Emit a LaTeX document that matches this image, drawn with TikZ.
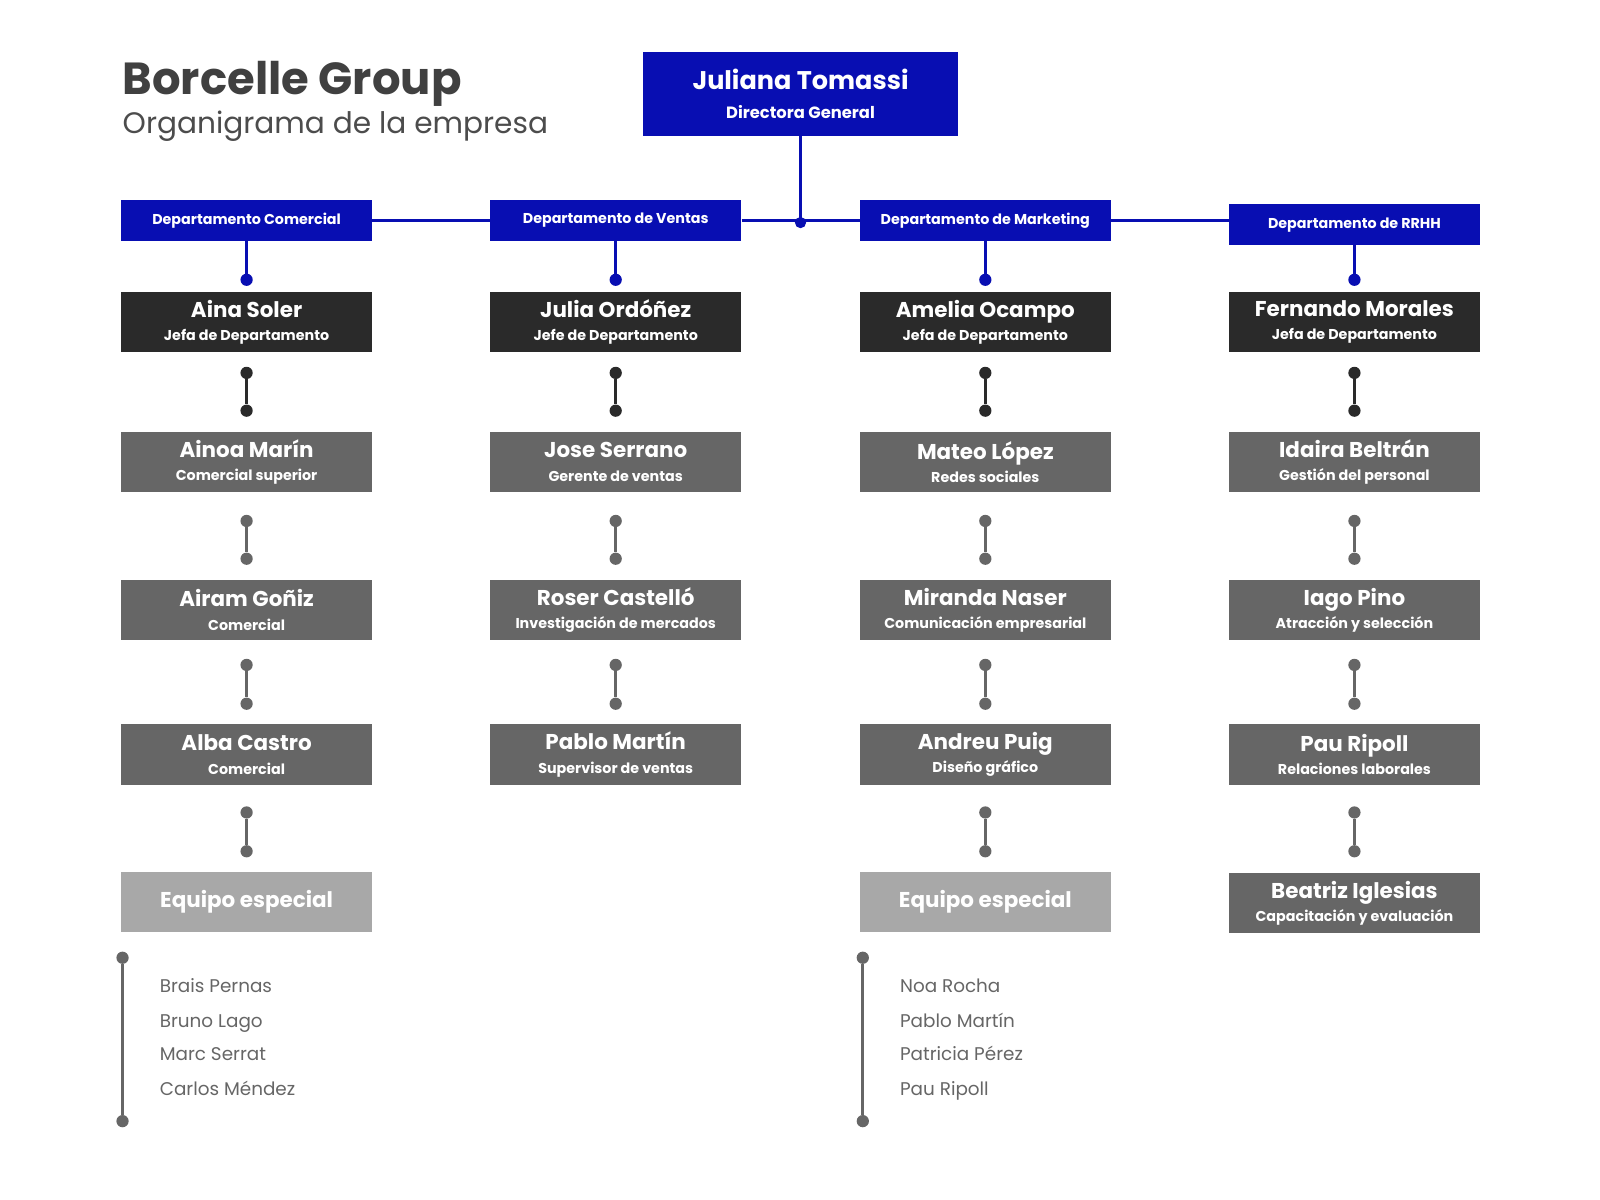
\documentclass[tikz,border=0pt]{standalone}
\usepackage{fontspec}
\setmainfont{Poppins}
\usetikzlibrary{positioning}
\definecolor{boss}{RGB}{8,14,178}
\definecolor{head}{RGB}{42,42,42}
\definecolor{staff}{RGB}{102,102,102}
\definecolor{team}{RGB}{168,168,168}
\newcommand{\who}[2]{\textbf{#1}\\{\fontsize{14}{16}\selectfont\bfseries #2}}
\tikzset{
  box/.style={text=white, align=center, minimum width=246pt, minimum height=59pt, inner sep=0pt, font=\fontsize{21}{23}\selectfont},
  dept/.style={box, fill=boss, minimum height=40pt, font=\fontsize{14}{16}\selectfont\bfseries},
  hd/.style={box, fill=head},
  st/.style={box, fill=staff},
  link/.style={line width=3pt, draw=#1},
  dot/.style={circle, fill=#1, inner sep=0pt, minimum size=12pt},
  member/.style={anchor=base west, text=staff, font=\fontsize{18}{20}\selectfont}
}
\begin{document}
\begin{tikzpicture}[x=1pt,y=-1pt]
\useasboundingbox[fill=white] (0,0) rectangle (1567,1175);

\node[anchor=base west, text=black!75, font=\fontsize{44}{48}\selectfont\bfseries, inner sep=0pt] (title) at (120,93) {Borcelle Group};
\node[anchor=base west, text=black!70, font=\fontsize{29}{32}\selectfont, inner sep=0pt] (sub) at (120,131) {Organigrama de la empresa};

\node[box, fill=boss, minimum width=308pt, minimum height=82pt, font=\fontsize{25}{29}\selectfont] (ceo) at (784,92) {\textbf{Juliana Tomassi}\\{\fontsize{16}{18}\selectfont\bfseries Directora General}};

\node[dept] (d1) at (241.5,216) {Departamento Comercial};
\node[dept] (d2) at (603,216) {Departamento de Ventas};
\node[dept] (d3) at (965,216) {Departamento de Marketing};
\node[dept] (d4) at (1326.5,220) {Departamento de RRHH};
\node[dot=boss, minimum size=11pt] (hub) at (784,218) {};
\draw[link=boss] (d1.east) -- (d2.west) (d2.east) -- (d3.west) (d3.east) -- (d4.west |- d3.east);
\draw[link=boss] (ceo.south) -- (hub.center);

% jefes
\node[hd] (h1) at (241.5,315.5) {\who{Aina Soler}{Jefa de Departamento}};
\node[hd] (h2) at (603,315.5) {\who{Julia Ordóñez}{Jefe de Departamento}};
\node[hd] (h3) at (965,315.5) {\who{Amelia Ocampo}{Jefa de Departamento}};
\node[hd] (h4) at (1326.5,315.5) {\who{Fernando Morales}{Jefa de Departamento}};

% segunda fila
\node[st] (a1) at (241.5,452.5) {\who{Ainoa Marín}{Comercial superior}};
\node[st] (a2) at (603,452.5) {\who{Jose Serrano}{Gerente de ventas}};
\node[st] (a3) at (965,452.5) {\who{Mateo López}{Redes sociales}};
\node[st] (a4) at (1326.5,452.5) {\who{Idaira Beltrán}{Gestión del personal}};

\node[st] (b1) at (241.5,597.5) {\who{Airam Goñiz}{Comercial}};
\node[st] (b2) at (603,597.5) {\who{Roser Castelló}{Investigación de mercados}};
\node[st] (b3) at (965,597.5) {\who{Miranda Naser}{Comunicación empresarial}};
\node[st] (b4) at (1326.5,597.5) {\who{Iago Pino}{Atracción y selección}};

\node[st] (c1) at (241.5,739) {\who{Alba Castro}{Comercial}};
\node[st] (c2) at (603,739) {\who{Pablo Martín}{Supervisor de ventas}};
\node[st] (c3) at (965,739) {\who{Andreu Puig}{Diseño gráfico}};
\node[st] (c4) at (1326.5,739) {\who{Pau Ripoll}{Relaciones laborales}};

\node[box, fill=team, font=\fontsize{21}{23}\selectfont\bfseries] (e1) at (241.5,883.5) {Equipo especial};
\node[box, fill=team, font=\fontsize{21}{23}\selectfont\bfseries] (e3) at (965,883.5) {Equipo especial};
\node[st] (e4) at (1326.5,884.5) {\who{Beatriz Iglesias}{Capacitación y evaluación}};

% conectores
\foreach \i in {1,...,4}{
  \node[dot=boss] (p\i) at (h\i.north |- 0,274) {};
  \draw[link=boss] (d\i.south) -- (p\i.center);
  \node[dot=head] (u\i) at ([yshift=-20pt]h\i.south) {};
  \node[dot=head] (v\i) at ([yshift=-57pt]h\i.south) {};
  \draw[link=head] (u\i) -- (v\i);
  \node[dot=staff] (w\i) at ([yshift=-28pt]a\i.south) {};
  \node[dot=staff] (x\i) at ([yshift=-65pt]a\i.south) {};
  \draw[link=staff] (w\i) -- (x\i);
  \node[dot=staff] (y\i) at ([yshift=-24pt]b\i.south) {};
  \node[dot=staff] (z\i) at ([yshift=-62pt]b\i.south) {};
  \draw[link=staff] (y\i) -- (z\i);
}
\foreach \i in {1,3,4}{
  \node[dot=staff] (q\i) at ([yshift=-27pt]c\i.south) {};
  \node[dot=staff] (r\i) at ([yshift=-65pt]c\i.south) {};
  \draw[link=staff] (q\i) -- (r\i);
}

% equipos
\node[dot=staff] (t1) at (120,938) {};
\node[dot=staff] (s1) at (120,1098) {};
\draw[link=staff] (t1) -- (s1);
\node[member] (m11) at (153,972) {Brais Pernas};
\node[member] (m12) at (153,1006) {Bruno Lago};
\node[member] (m13) at (153,1039) {Marc Serrat};
\node[member] (m14) at (153,1073) {Carlos Méndez};

\node[dot=staff] (t3) at (845,938) {};
\node[dot=staff] (s3) at (845,1098) {};
\draw[link=staff] (t3) -- (s3);
\node[member] (m31) at (878,972) {Noa Rocha};
\node[member] (m32) at (878,1006) {Pablo Martín};
\node[member] (m33) at (878,1039) {Patricia Pérez};
\node[member] (m34) at (878,1073) {Pau Ripoll};
\end{tikzpicture}
\end{document}
